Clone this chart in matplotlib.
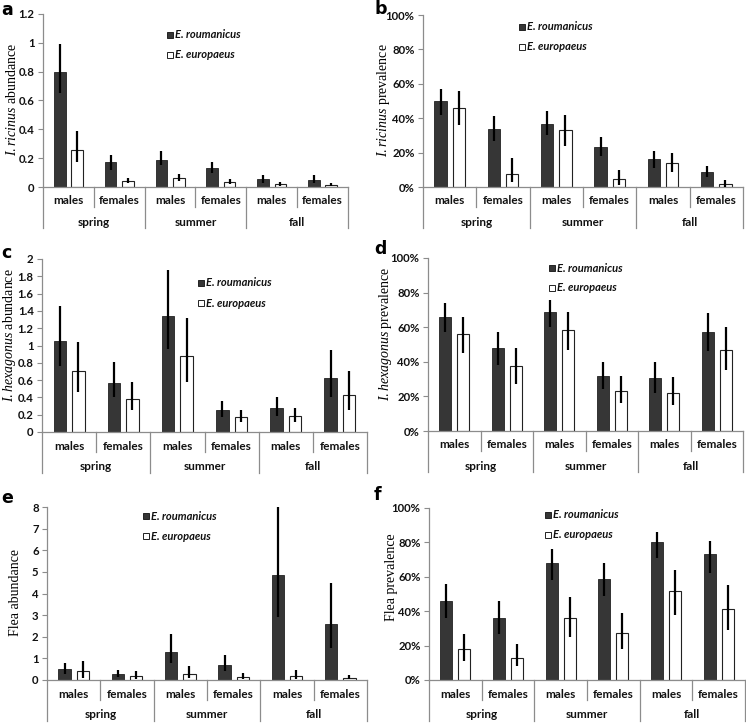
import matplotlib
matplotlib.use("Agg")
import matplotlib.pyplot as plt
from matplotlib.patches import Rectangle
from matplotlib.transforms import blended_transform_factory
import numpy as np

plt.rcParams['mathtext.fontset'] = 'custom'
plt.rcParams['mathtext.it'] = 'Liberation Serif:italic'
plt.rcParams['mathtext.rm'] = 'Liberation Serif'

sexes = ["males", "females", "males", "females", "males", "females"]
seasons = ["spring", "summer", "fall"]
species = ["E. roumanicus", "E. europaeus"]

# Panel a: I. ricinus abundance
a_rou = [0.80, 0.17, 0.19, 0.135, 0.055, 0.05]
a_rou_lo = [0.65, 0.12, 0.15, 0.10, 0.03, 0.025]
a_rou_hi = [0.99, 0.22, 0.25, 0.17, 0.085, 0.08]
a_eur = [0.26, 0.04, 0.06, 0.035, 0.02, 0.015]
a_eur_lo = [0.17, 0.025, 0.04, 0.02, 0.01, 0.005]
a_eur_hi = [0.39, 0.06, 0.09, 0.055, 0.035, 0.025]

# Panel b: I. ricinus prevalence (%)
b_rou = [50, 34, 36.5, 23, 16, 9]
b_rou_lo = [42, 27, 30, 18, 11, 6]
b_rou_hi = [57, 41, 44, 29, 21, 12]
b_eur = [46, 7.5, 33, 4.5, 14, 1.5]
b_eur_lo = [36, 3, 24, 1, 9, 0]
b_eur_hi = [56, 17, 42, 10, 20, 4]

# Panel c: I. hexagonus abundance
c_rou = [1.05, 0.57, 1.34, 0.26, 0.28, 0.62]
c_rou_lo = [0.76, 0.41, 0.96, 0.17, 0.19, 0.41]
c_rou_hi = [1.46, 0.81, 1.87, 0.36, 0.41, 0.95]
c_eur = [0.70, 0.38, 0.88, 0.17, 0.19, 0.43]
c_eur_lo = [0.46, 0.25, 0.58, 0.11, 0.12, 0.26]
c_eur_hi = [1.04, 0.58, 1.32, 0.26, 0.28, 0.70]

# Panel d: I. hexagonus prevalence (%)
d_rou = [66, 48, 68.5, 32, 30.5, 57.5]
d_rou_lo = [57, 38, 60, 24, 22, 46]
d_rou_hi = [74, 57, 76, 40, 40, 68]
d_eur = [56, 37.5, 58.5, 23, 22, 47]
d_eur_lo = [45, 27, 47, 16, 15, 35]
d_eur_hi = [66, 48, 69, 32, 31, 60]

# Panel e: Flea abundance
e_rou = [0.5, 0.3, 1.3, 0.7, 4.85, 2.6]
e_rou_lo = [0.3, 0.15, 0.8, 0.4, 2.9, 1.5]
e_rou_hi = [0.8, 0.45, 2.15, 1.15, 8.0, 4.5]
e_eur = [0.4, 0.2, 0.3, 0.15, 0.2, 0.1]
e_eur_lo = [0.1, 0.05, 0.1, 0.05, 0.05, 0.03]
e_eur_hi = [0.9, 0.42, 0.65, 0.32, 0.45, 0.25]

# Panel f: Flea prevalence (%)
f_rou = [46, 36, 68, 58.5, 80, 73]
f_rou_lo = [36, 27, 58, 49, 71, 62]
f_rou_hi = [56, 46, 76, 68, 86, 81]
f_eur = [18, 13, 36, 27.5, 51.5, 41.5]
f_eur_lo = [11, 8, 25, 18, 38, 29]
f_eur_hi = [27, 21, 48, 39, 64, 55]

W, H = 746, 723
fig = plt.figure(figsize=(W / 100, H / 100), dpi=100)

DARK = '#363636'
GRID = '#8c8c8c'
SANS = 'Lato'
SERIF = 'Liberation Serif'

panels = [
    dict(letter='a', box=(43, 348, 14, 187), ymax=1.2, step=0.2, pct=False,
         ylabel=r'$\mathit{I.ricinus}$ abundance', ylpos=(12, 100), leg=(167, 35),
         data=(a_rou, a_rou_lo, a_rou_hi, a_eur, a_eur_lo, a_eur_hi), lx=1, ly=1),
    dict(letter='b', box=(423, 743, 15, 187), ymax=100, step=20, pct=True,
         ylabel=r'$\mathit{I.ricinus}$ prevalence', ylpos=(384, 100), leg=(519, 27),
         data=(b_rou, b_rou_lo, b_rou_hi, b_eur, b_eur_lo, b_eur_hi), lx=374, ly=0),
    dict(letter='c', box=(42, 367, 259, 432), ymax=2.0, step=0.2, pct=False,
         ylabel=r'$\mathit{I.hexagonus}$ abundance', ylpos=(10, 335), leg=(198, 283),
         data=(c_rou, c_rou_lo, c_rou_hi, c_eur, c_eur_lo, c_eur_hi), lx=1, ly=244),
    dict(letter='d', box=(428, 743, 258, 431), ymax=100, step=20, pct=True,
         ylabel=r'$\mathit{I.hexagonus}$ prevalence', ylpos=(386, 334), leg=(549, 268),
         data=(d_rou, d_rou_lo, d_rou_hi, d_eur, d_eur_lo, d_eur_hi), lx=374, ly=240),
    dict(letter='e', box=(47, 367, 507, 680), ymax=8, step=1, pct=False,
         ylabel='Flea abundance', ylpos=(16, 593), leg=(143, 516),
         data=(e_rou, e_rou_lo, e_rou_hi, e_eur, e_eur_lo, e_eur_hi), lx=1, ly=489),
    dict(letter='f', box=(429, 745, 508, 680), ymax=100, step=20, pct=True,
         ylabel='Flea prevalence', ylpos=(391, 577), leg=(545, 515),
         data=(f_rou, f_rou_lo, f_rou_hi, f_eur, f_eur_lo, f_eur_hi), lx=374, ly=486),
]

x = np.arange(len(sexes))
off = 0.17
bw = 0.23

for p in panels:
    l, r, t, b = p['box']
    ax = fig.add_axes([l / W, 1 - b / H, (r - l) / W, (b - t) / H])
    rou, rlo, rhi, eur, elo, ehi = p['data']
    rou = np.array(rou); eur = np.array(eur)
    ax.bar(x - off, rou, bw, color=DARK, edgecolor='#222222', linewidth=0.6, zorder=2)
    ax.bar(x + off, eur, bw, color='white', edgecolor='#222222', linewidth=0.8, zorder=2)
    ax.vlines(x - off, rlo, rhi, color='black', linewidth=1.6, zorder=3)
    ax.vlines(x + off, elo, ehi, color='black', linewidth=1.6, zorder=3)
    ax.set_xlim(-0.5, len(sexes) - 0.5)
    ax.set_ylim(0, p['ymax'])
    ticks = np.arange(0, p['ymax'] + p['step'] / 2, p['step'])
    ax.set_yticks(ticks)
    if p['pct']:
        labs = ['%d%%' % round(v) for v in ticks]
    else:
        labs = ['%g' % round(v, 1) for v in ticks]
    ax.set_yticklabels(labs, fontfamily=SANS, fontweight='bold', fontsize=8.2, color='#111111')
    ax.tick_params(axis='y', direction='out', length=3.5, width=0.8, color=GRID, pad=2.5)
    ax.set_xticks([])
    for s in ['top', 'right']:
        ax.spines[s].set_visible(False)
    ax.spines['left'].set_color(GRID)
    ax.spines['bottom'].set_color(GRID)
    ax.spines['left'].set_linewidth(0.9)
    ax.spines['bottom'].set_linewidth(0.9)
    ax.patch.set_visible(False)

    # multi-level category axis
    hpx = (b - t)
    d1 = -20 / hpx
    d2 = -41 / hpx
    tr = blended_transform_factory(ax.transData, ax.transAxes)
    for i in range(len(sexes) + 1):
        xs = i - 0.5
        yb = d2 if i % 2 == 0 else d1
        ax.plot([xs, xs], [0, yb], transform=tr, color=GRID, linewidth=0.9,
                clip_on=False)
    for i, s in enumerate(sexes):
        ax.text(i, -14 / hpx, s, transform=tr, ha='center', va='center',
                fontfamily=SANS, fontweight='bold', fontsize=8.5, color='#111111')
    for j, s in enumerate(seasons):
        ax.text(2 * j + 0.5, -35 / hpx, s, transform=tr, ha='center', va='center',
                fontfamily=SANS, fontweight='bold', fontsize=8.5, color='#111111')

    # y label
    yx, yy0 = p['ylpos']
    fig.text(yx / W, 1 - yy0 / H, p['ylabel'], fontfamily=SERIF, fontsize=10,
             rotation=90, ha='center', va='center')

    # legend
    lxp, lyp = p['leg']
    for k, (sp, fc) in enumerate(zip(species, [DARK, 'white'])):
        yy = lyp + 20 * k
        fig.patches.append(Rectangle(((lxp) / W, 1 - (yy + 3) / H), 6 / W, 6 / H,
                                     transform=fig.transFigure, facecolor=fc,
                                     edgecolor='#222222', linewidth=0.7))
        fig.text((lxp + 8) / W, 1 - yy / H, sp, fontfamily=SANS, fontstyle='italic',
                 fontweight='bold', fontsize=8, va='center', ha='left', color='#111111')

    fig.text(p['lx'] / W, 1 - p['ly'] / H, p['letter'], fontfamily='DejaVu Sans',
             fontweight='bold', fontsize=12.5, va='top', ha='left')

fig.savefig('out.png', dpi=100)
